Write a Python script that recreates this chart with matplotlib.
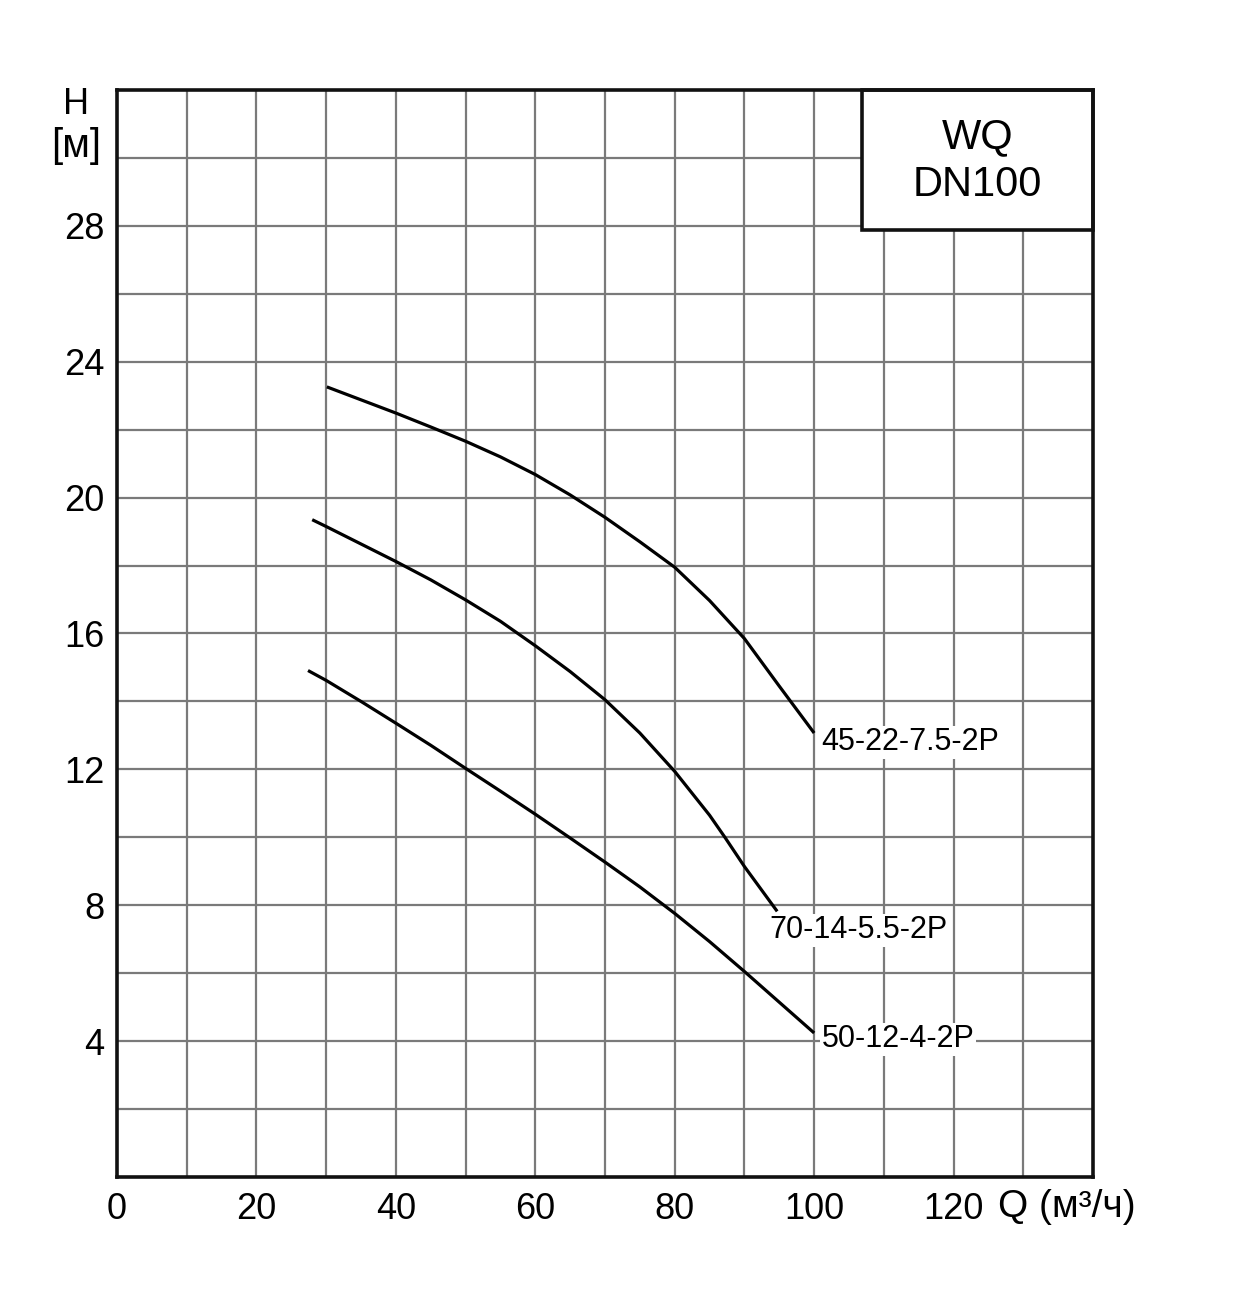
import matplotlib
matplotlib.use("Agg")
import matplotlib.pyplot as plt
from matplotlib.patches import Rectangle

plt.rcParams['font.family'] = ['Liberation Sans', 'DejaVu Sans']

# Q (m3/h) vs H (m)
q_45 = [30.1, 40, 45, 50, 55, 60, 65, 70, 75, 80, 85, 90, 95, 100]
h_45 = [23.26, 22.49, 22.08, 21.66, 21.2, 20.68, 20.08, 19.42, 18.7, 17.95, 16.97, 15.85, 14.45, 13.07]

q_70 = [28.0, 30, 40, 45, 50, 55, 60, 65, 70, 75, 80, 85, 87.2, 90, 94.7]
h_70 = [19.35, 19.15, 18.12, 17.58, 16.99, 16.36, 15.64, 14.88, 14.05, 13.07, 11.94, 10.65, 10.0, 9.14, 7.82]

q_50 = [27.4, 30, 35, 40, 45, 50, 55, 60, 65, 70, 75, 80, 85, 90, 100]
h_50 = [14.91, 14.62, 14.0, 13.36, 12.71, 12.03, 11.36, 10.68, 9.98, 9.27, 8.54, 7.76, 6.93, 6.05, 4.24]

curve_names = ['45-22-7.5-2P', '70-14-5.5-2P', '50-12-4-2P']
label_pos = [(101.0, 12.8), (93.6, 7.27), (101.1, 4.05)]

x_ticks = [0, 20, 40, 60, 80, 100, 120]
y_ticks = [4, 8, 12, 16, 20, 24, 28]

fig = plt.figure(figsize=(12.4, 12.99), dpi=100)
ax = fig.add_axes([117/1240, 122/1299, 976/1240, 1087/1299])

ax.set_xlim(0, 140)
ax.set_ylim(0, 32)

# grid every 10 m3/h and 2 m
for gx in range(10, 140, 10):
    ax.axvline(gx, color='#7a7a7a', lw=1.6, zorder=1)
for gy in range(2, 32, 2):
    ax.axhline(gy, color='#7a7a7a', lw=1.6, zorder=1)

ax.set_xticks(x_ticks)
ax.set_yticks(y_ticks)
ax.tick_params(length=0, labelsize=26)
ax.tick_params(axis='x', pad=11)
ax.tick_params(axis='y', pad=9)
for s in ax.spines.values():
    s.set_linewidth(2.6)
    s.set_color('#111111')
    s.set_zorder(5)

for q, h in [(q_45, h_45), (q_70, h_70), (q_50, h_50)]:
    ax.plot(q, h, color='black', lw=2.3, zorder=3,
            solid_capstyle='butt', solid_joinstyle='round')

for name, (tx, ty) in zip(curve_names, label_pos):
    ax.text(tx, ty, name, fontsize=22, ha='left', va='center', zorder=4,
            bbox=dict(facecolor='white', edgecolor='none', pad=1))

# model box top-right
ax.add_patch(Rectangle((106.8, 27.89), 140 - 106.8, 32 - 27.89, facecolor='white',
                       edgecolor='#111111', lw=2.6, zorder=4, clip_on=False))
ax.text(123.4, 29.92, 'WQ\nDN100', fontsize=30, ha='center', va='center',
        linespacing=1.25, zorder=6)

fig.text(76/1240, 1 - 104/1299, 'H', fontsize=26, ha='center', va='center')
fig.text(76/1240, 1 - 146/1299, '[м]', fontsize=29, ha='center', va='center')
fig.text(998/1240, 1 - 1207/1299, 'Q (м³/ч)', fontsize=28, ha='left', va='center')

fig.savefig('out.png', dpi=100)
